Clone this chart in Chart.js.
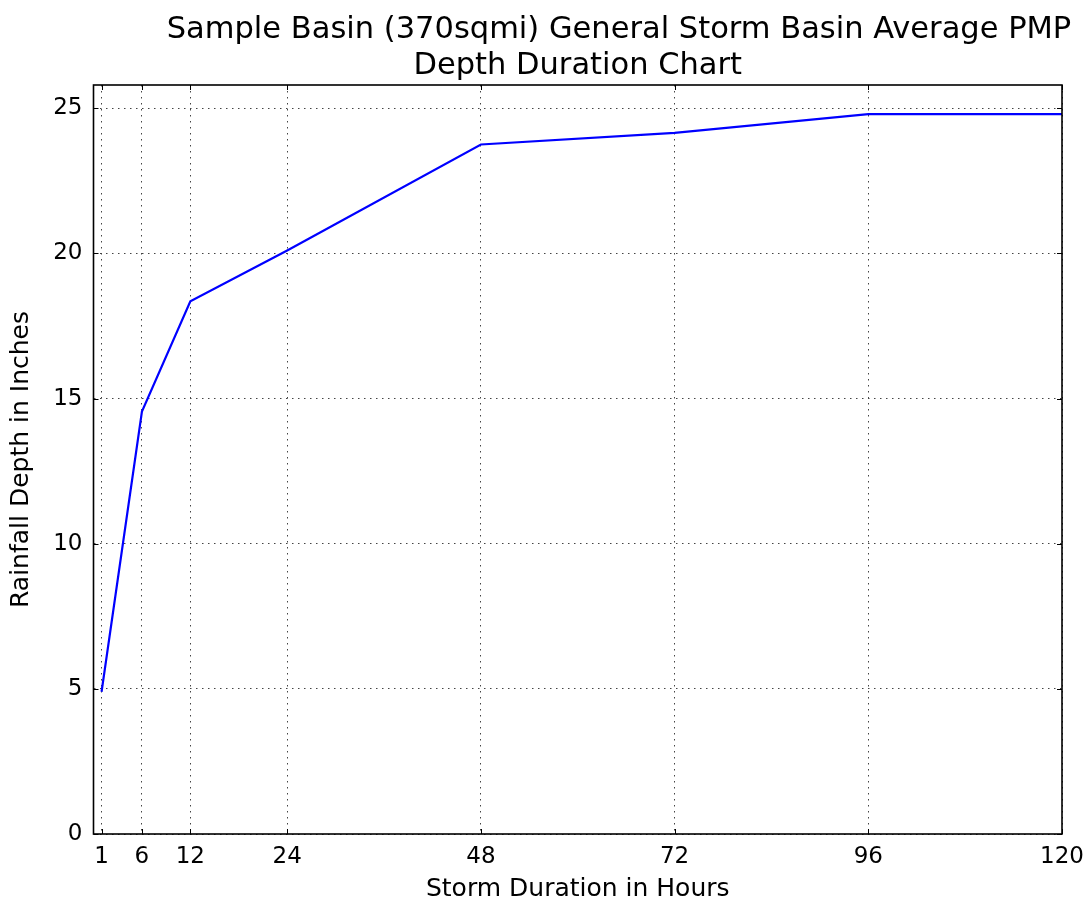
<!DOCTYPE html>
<html>
<head>
<meta charset="utf-8">
<script src="https://cdn.jsdelivr.net/npm/chart.js@4"></script>
<style>
html,body{margin:0;padding:0;background:#fff;}
#wrap{width:1088px;height:907px;}
</style>
</head>
<body>
<div id="wrap"><canvas id="c" width="1088" height="907"></canvas></div>
<script>
const titleLines = ["Sample Basin (370sqmi) General Storm Basin Average PMP", "Depth Duration Chart"];
const xAxisLabel = "Storm Duration in Hours";
const yAxisLabel = "Rainfall Depth in Inches";
const durations = [1, 6, 12, 24, 48, 72, 96, 120];
const depths = [4.9, 14.55, 18.35, 20.1, 23.75, 24.15, 24.8, 24.8];
const xTickValues = [1, 6, 12, 24, 48, 72, 96, 120];
const yTickValues = [0, 5, 10, 15, 20, 25];

const FONT = "'DejaVu Sans', sans-serif";

const framePlugin = {
  id: 'frame',
  afterDraw(chart) {
    const ctx = chart.ctx;
    const a = chart.chartArea;
    const xs = chart.scales.x, ys = chart.scales.y;
    ctx.save();
    ctx.strokeStyle = '#000';
    ctx.lineWidth = 1;
    const tl = 5;
    ctx.beginPath();
    xTickValues.forEach(v => {
      const px = Math.round(xs.getPixelForValue(v)) + 0.5;
      ctx.moveTo(px, a.bottom); ctx.lineTo(px, a.bottom - tl);
      ctx.moveTo(px, a.top); ctx.lineTo(px, a.top + tl);
    });
    yTickValues.forEach(v => {
      const py = Math.round(ys.getPixelForValue(v)) + 0.5;
      ctx.moveTo(a.left, py); ctx.lineTo(a.left + tl, py);
      ctx.moveTo(a.right, py); ctx.lineTo(a.right - tl, py);
    });
    ctx.stroke();
    ctx.lineWidth = 1.6;
    ctx.strokeRect(a.left, a.top, a.right - a.left, a.bottom - a.top);
    // title
    ctx.fillStyle = '#000';
    ctx.font = '30.5px ' + FONT;
    ctx.textBaseline = 'alphabetic';
    ctx.textAlign = 'center';
    ctx.fillText(titleLines[0], 619, 38);
    ctx.fillText(titleLines[1], (a.left + a.right) / 2, 74);
    ctx.restore();
  }
};

new Chart(document.getElementById('c'), {
  type: 'line',
  data: {
    datasets: [{
      data: durations.map((d, i) => ({x: d, y: depths[i]})),
      borderColor: '#0000ff',
      borderWidth: 2.2,
      pointRadius: 0,
      tension: 0,
      fill: false
    }]
  },
  options: {
    responsive: false,
    animation: false,
    devicePixelRatio: 1,
    layout: {padding: {left: 0, top: 85, right: 26, bottom: 0}},
    plugins: {legend: {display: false}, tooltip: {enabled: false}, title: {display: false}},
    scales: {
      x: {
        type: 'linear',
        min: 0, max: 120,
        afterBuildTicks(s) { s.ticks = xTickValues.map(v => ({value: v})); },
        afterFit(s) { s.height = 907 - 834; s.paddingLeft = 0; s.paddingRight = 0; },
        grid: {color: '#444', lineWidth: 1, drawTicks: false},
        border: {display: false, dash: [1.5, 4.5]},
        ticks: {color: '#000', font: {family: FONT, size: 23}, padding: 9, maxRotation: 0, autoSkip: false,
                callback: v => String(v)},
        title: {display: true, text: xAxisLabel, color: '#000', font: {family: FONT, size: 25}, padding: {top: 0, bottom: 3}}
      },
      y: {
        type: 'linear',
        min: 0, max: 25.8,
        afterBuildTicks(s) { s.ticks = yTickValues.map(v => ({value: v})); },
        afterFit(s) { s.width = 93.5; s.paddingTop = 0; s.paddingBottom = 0; },
        grid: {color: '#444', lineWidth: 1, drawTicks: false},
        border: {display: false, dash: [1.5, 4.5]},
        ticks: {color: '#000', font: {family: FONT, size: 23}, padding: 11, autoSkip: false,
                callback: v => String(v)},
        title: {display: true, text: yAxisLabel, color: '#000', font: {family: FONT, size: 25}, padding: {top: 6, bottom: 0}}
      }
    }
  },
  plugins: [framePlugin]
});
</script>
</body>
</html>
